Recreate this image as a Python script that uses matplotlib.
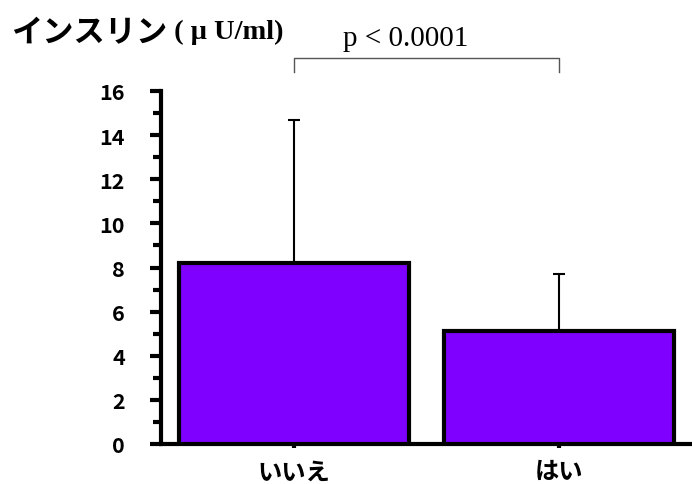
import matplotlib
matplotlib.use("Agg")
import matplotlib.pyplot as plt
from matplotlib.ticker import MultipleLocator
import matplotlib.transforms as mtransforms

categories = ["いいえ", "はい"]
means = [8.2, 5.1]
sd_upper = [6.5, 2.6]
yticks = [0, 2, 4, 6, 8, 10, 12, 14, 16]
title_jp = "インスリン"
title_unit = " ( μ U/ml)"
p_text = "p < 0.0001"

jp = "Noto Sans CJK JP"
serif = "Liberation Serif"

fig = plt.figure(figsize=(6.92, 4.85), dpi=100)
ax = fig.add_axes([161/692, 1-445/485, 531/692, (445-92)/485])

x = list(range(len(categories)))
ax.bar(x, means, width=0.866, color="#8000FF", edgecolor="black",
       linewidth=3, zorder=3)
ax.errorbar(x, means, yerr=[[0]*len(means), sd_upper], fmt="none",
            ecolor="black", elinewidth=1.5, capsize=4.5, capthick=1.5, zorder=2)

ax.set_xlim(-0.5, 1.5)
ax.set_ylim(0, 16)
ax.set_yticks(yticks)
ax.yaxis.set_minor_locator(MultipleLocator(1))
ax.set_xticks(x)
ax.set_xticklabels(categories, fontfamily=jp, fontweight="bold", fontsize=17.5)
ax.set_yticklabels([str(v) for v in yticks], fontfamily=jp, fontweight="bold", fontsize=15.5)

for s in ["top", "right"]:
    ax.spines[s].set_visible(False)
for s in ["left", "bottom"]:
    ax.spines[s].set_linewidth(3)
ax.tick_params(axis="y", which="major", length=8, width=3, pad=18, direction="out")
ax.tick_params(axis="y", which="minor", length=6, width=3, direction="out")
ax.tick_params(axis="x", which="major", length=3, width=3, pad=8, direction="out")

# significance bracket
trans = mtransforms.blended_transform_factory(ax.transData, ax.transData)
ax.plot([x[0], x[0], x[1], x[1]], [16.86, 17.5, 17.5, 16.86], color="#555555",
        linewidth=1, clip_on=False, transform=trans)
ax.text(0.42, 18.1, p_text, fontfamily=serif, fontsize=21, ha="center",
        va="baseline", clip_on=False)

# title
t1 = fig.text(11/692, 1-42/485, title_jp, fontfamily=jp, fontweight="bold",
              fontsize=22.5, va="baseline", ha="left")
fig.canvas.draw()
ax.annotate(title_unit, xy=(1, 0), xycoords=t1, xytext=(0, 3),
            textcoords="offset points", fontfamily=serif,
            fontweight="bold", fontsize=20.5, va="bottom", ha="left",
            annotation_clip=False)

fig.savefig("out.png", dpi=100)
